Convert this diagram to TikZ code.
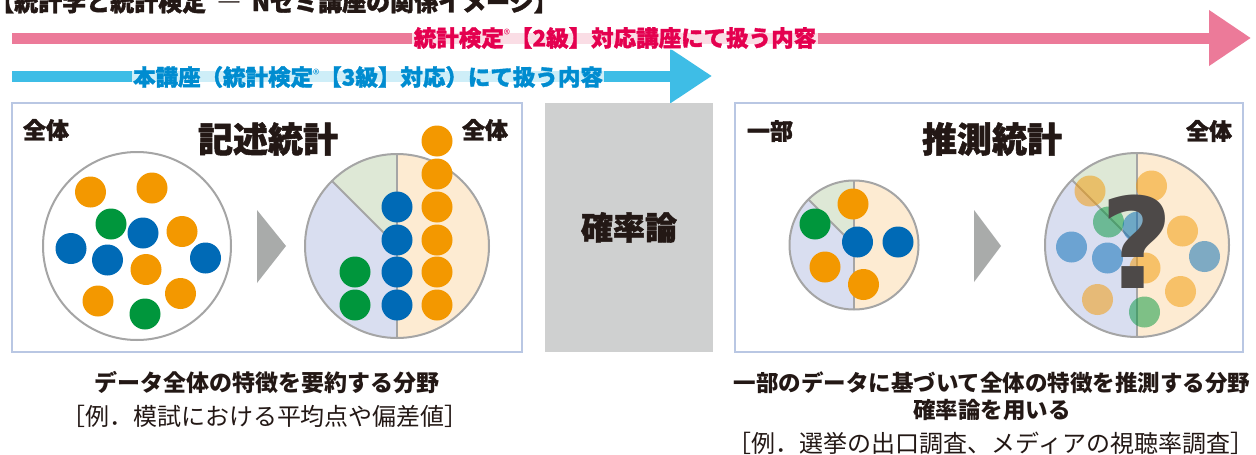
\documentclass[tikz,border=0pt]{standalone}
\usepackage{fontspec}
\usetikzlibrary{arrows.meta}
\setmainfont{Noto Sans CJK JP}
\newfontfamily\jpheavy{Noto Sans CJK JP}[BoldFeatures={FakeBold=1.5}]
\newfontfamily\qfont{DejaVu Sans}
\definecolor{pinkarrow}{RGB}{236,122,153}
\definecolor{pinktext}{RGB}{228,0,79}
\definecolor{bluearrow}{RGB}{62,189,230}
\definecolor{bluetext}{RGB}{0,140,208}
\definecolor{panelline}{RGB}{185,199,227}
\definecolor{probgray}{RGB}{207,208,208}
\definecolor{ring}{RGB}{165,165,165}
\definecolor{dotO}{RGB}{243,152,0}
\definecolor{dotG}{RGB}{0,150,60}
\definecolor{dotB}{RGB}{0,106,182}
\definecolor{pieO}{RGB}{253,235,210}
\definecolor{pieG}{RGB}{222,232,214}
\definecolor{pieB}{RGB}{217,222,240}
\definecolor{tri}{RGB}{169,171,170}
\definecolor{ink}{RGB}{35,24,21}
\definecolor{qgray}{RGB}{77,73,72}
\newcommand\regmark{\raisebox{6.5pt}{\fontsize{13}{13}\selectfont\mdseries ®}}
\newcommand\drawpie[3]{%
  \fill[pieO] (#1,#2) -- ++(-90:#3) arc[start angle=-90,end angle=90,radius=#3] -- cycle;
  \fill[pieG] (#1,#2) -- ++(225:#3) arc[start angle=225,end angle=270,radius=#3] -- cycle;
  \fill[pieB] (#1,#2) -- ++(90:#3) arc[start angle=90,end angle=225,radius=#3] -- cycle;
  \draw[ringline] (#1,#2) ++(0,-#3) -- ++(0,2*#3);
  \draw[ringline] (#1,#2) -- ++(225:#3);
}
\tikzset{
  ringline/.style={draw=ring, line width=2pt},
  ringnode/.style={circle, draw=ring, line width=2pt, inner sep=0},
  panel/.style={draw=panelline, line width=2pt, fill=white, inner sep=0},
  arrowlabel/.style={fill=white, fill opacity=0.75, text opacity=1, inner xsep=1.5pt, inner ysep=1.5pt,
     font=\jpheavy\bfseries\fontsize{22.5}{22.5}\selectfont},
  corner/.style={text=ink, inner sep=0, font=\jpheavy\bfseries\fontsize{23}{23}\selectfont},
  heading/.style={text=ink, inner sep=0, font=\jpheavy\bfseries\fontsize{35}{35}\selectfont},
  capb/.style={text=ink, inner sep=0, font=\bfseries\fontsize{23}{23}\selectfont},
  capr/.style={text=ink, inner sep=0, font=\fontsize{24}{24}\selectfont},
  tri/.style={fill=tri},
  dO/.style={fill=dotO}, dG/.style={fill=dotG}, dB/.style={fill=dotB},
  fade/.style={fill opacity=0.5},
}
\begin{document}
\begin{tikzpicture}[x=1pt,y=-1pt]
\useasboundingbox (0,0) rectangle (1256,455);
\fill[white] (0,0) rectangle (1256,455);

% title (cut at the top edge, as in the reference)
\node[anchor=base west, inner sep=0, text=ink, font=\jpheavy\bfseries\fontsize{24}{24}\selectfont] (title) at (-10,11)
  {【統計学と統計検定\hspace{.45em}―\hspace{.45em}Nゼミ講座の関係イメージ】};

% arrows with labels
\coordinate (pinkA) at (12,38);
\coordinate (pinkB) at (1251,38);
\coordinate (blueA) at (12,76);
\coordinate (blueB) at (712,76);
\draw[pinkarrow, line width=11pt, -{Triangle[length=42pt,width=53pt]}] (pinkA) -- (pinkB);
\draw[bluearrow, line width=11pt, -{Triangle[length=42pt,width=52pt]}] (blueA) -- (blueB);
\node[arrowlabel, text=pinktext] (pinklabel) at (615,38)
  {統計検定\regmark【2級】対応講座にて扱う内容};
\node[arrowlabel, text=bluetext] (bluelabel) at (368,77)
  {本講座（統計検定\regmark【3級】対応）にて扱う内容};

% panels
\node[panel, minimum width=510pt, minimum height=249pt] (desc) at (267,227.5) {};
\node[fill=probgray, inner sep=0, minimum width=168pt, minimum height=249pt, text=ink,
      font=\jpheavy\bfseries\fontsize{32}{32}\selectfont] (prob) at (629,227.5) {確率論};
\node[panel, minimum width=508pt, minimum height=249pt] (infer) at (989,227.5) {};

% descriptive statistics panel
\node[corner] (allA) at (46,130) {全体};
\node[heading] (headA) at (268,139) {記述統計};
\node[corner] (allB) at (485,130) {全体};

\node[ringnode, fill=white, minimum size=188pt] (whole) at (137,246) {};
\foreach \p in {(90.5,192),(152,188),(182,231.5),(146,269.5),(98,301),(180.5,293.5)} \fill[dO] \p circle[radius=15.5];
\foreach \p in {(111,224),(145,314)} \fill[dG] \p circle[radius=15.5];
\foreach \p in {(71,248.5),(143,233),(107.5,260),(205.5,258)} \fill[dB] \p circle[radius=15.5];

\fill[tri] (257,210) -- (286,246) -- (257,283) -- cycle;

\drawpie{397}{246}{92}
\node[ringnode, minimum size=184pt] (pieA) at (397,246) {};
\foreach \y in {141,174,207,240,272,305} \fill[dO] (437,\y) circle[radius=15.5];
\foreach \y in {207,240,272,305} \fill[dB] (397,\y) circle[radius=15.5];
\foreach \y in {272,305} \fill[dG] (355,\y) circle[radius=15.5];

% inferential statistics panel
\node[corner] (partC) at (770,131) {一部};
\node[heading] (headB) at (992,139) {推測統計};
\node[corner] (allC) at (1209,131) {全体};

\drawpie{854}{245}{64.5}
\node[ringnode, minimum size=129pt] (pieB) at (854,245) {};
\foreach \p in {(853,204),(825,267),(863.5,284.5)} \fill[dO] \p circle[radius=15.5];
\fill[dG] (815,224) circle[radius=15.5];
\foreach \p in {(857.5,242),(898,242)} \fill[dB] \p circle[radius=15.5];

\fill[tri] (974,210) -- (1001,246) -- (974,282) -- cycle;

\drawpie{1137}{245}{92}
\node[ringnode, minimum size=184pt] (pieC) at (1137,245) {};
\foreach \p in {(1090,191),(1151.5,186),(1182.5,231),(1145,268),(1180.5,291.5),(1097.5,299.5)} \fill[dO,fade] \p circle[radius=15.5];
\foreach \p in {(1108.5,222),(1144.5,312)} \fill[dG,fade] \p circle[radius=15.5];
\foreach \p in {(1071.5,247),(1107.5,258),(1138,227),(1204.5,256.5)} \fill[dB,fade] \p circle[radius=15.5];
\node[anchor=base, inner sep=0, text=qgray, font=\qfont\bfseries\fontsize{126}{126}\selectfont] (qmark) at (1137,288) {?};

% captions
\node[capb] (capA1) at (267,383) {データ全体の特徴を要約する分野};
\node[capr] (capA2) at (265,416) {［例．模試における平均点や偏差値］};
\node[capb, font=\bfseries\fontsize{22.5}{22.5}\selectfont] (capB1) at (992,383) {一部のデータに基づいて全体の特徴を推測する分野};
\node[capb, font=\bfseries\fontsize{22.5}{22.5}\selectfont] (capB2) at (992,410) {確率論を用いる};
\node[capr] (capB3) at (991,443) {［例．選挙の出口調査、メディアの視聴率調査］};
\end{tikzpicture}
\end{document}
